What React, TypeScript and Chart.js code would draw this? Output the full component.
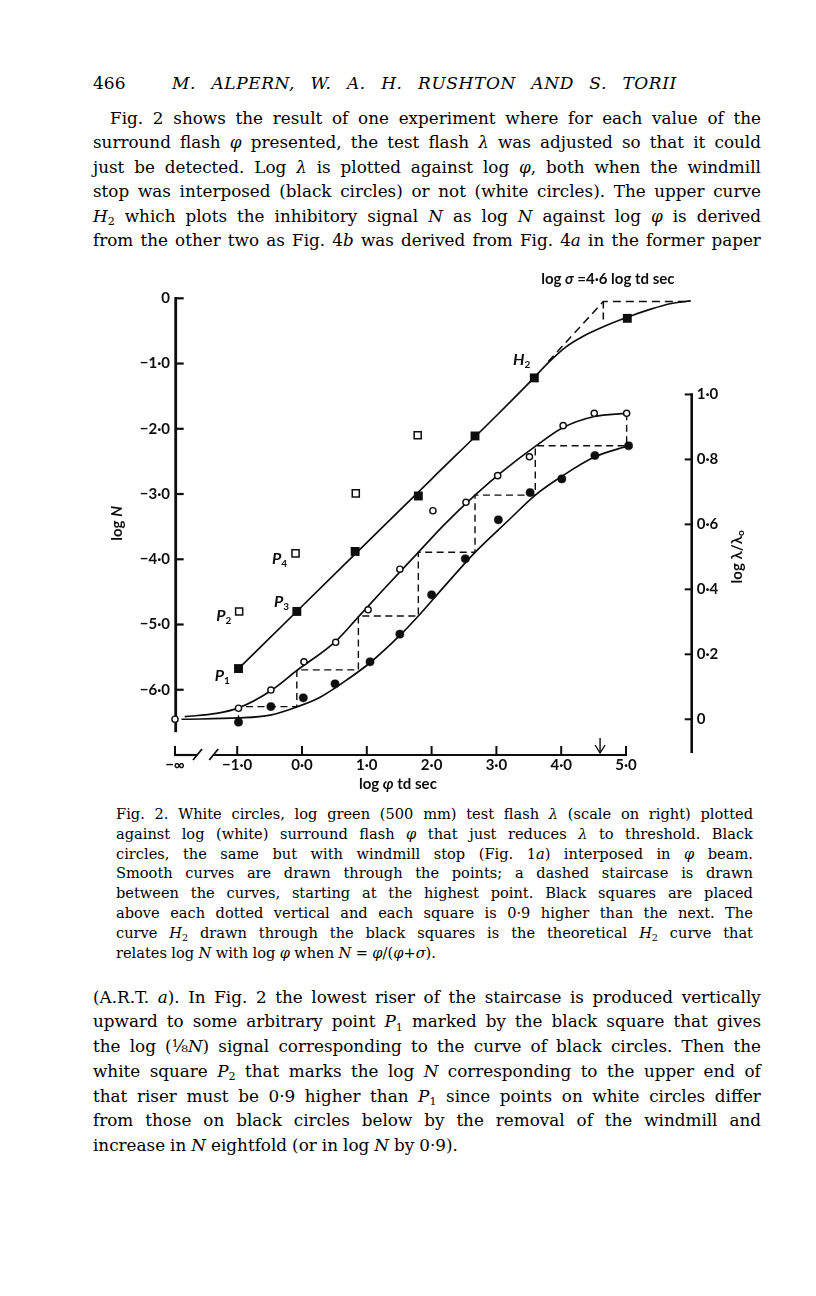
import React, { useEffect, useRef } from "react";
import { Chart, registerables } from "chart.js";

Chart.register(...registerables);

// ---------------- chart data ----------------
// position used for the "−∞" point on the broken log φ axis
const X_INF = -1.96;
const X_TICKS = [X_INF, -1, 0, 1, 2, 3, 4, 5];
const X_TICK_LABELS = ["−∞", "−1·0", "0·0", "1·0", "2·0", "3·0", "4·0", "5·0"];
const LOG_N_TICKS = [0, -1, -2, -3, -4, -5, -6];
const LOG_N_TICK_LABELS = ["0", "−1·0", "−2·0", "−3·0", "−4·0", "−5·0", "−6·0"];
const LOG_L_TICKS = [0, 0.2, 0.4, 0.6, 0.8, 1.0];
const LOG_L_TICK_LABELS = ["0", "0·2", "0·4", "0·6", "0·8", "1·0"];
const LOG_SIGMA = 4.6;

// white circles: log φ, log λ/λ0 (right scale)
const WHITE_CIRCLES: [number, number][] = [
  [X_INF, 0.0], [-0.98, 0.034], [-0.48, 0.09], [0.03, 0.177], [0.52, 0.237],
  [1.02, 0.337], [1.51, 0.462], [2.02, 0.642], [2.53, 0.668], [3.02, 0.75],
  [3.51, 0.808], [4.03, 0.904], [4.51, 0.942], [5.01, 0.942],
];
// black circles: log φ, log λ/λ0 (right scale)
const BLACK_CIRCLES: [number, number][] = [
  [-0.98, -0.009], [-0.48, 0.039], [0.02, 0.066], [0.51, 0.109], [1.05, 0.177],
  [1.51, 0.262], [2.0, 0.383], [2.52, 0.494], [3.03, 0.614], [3.52, 0.698],
  [4.01, 0.74], [4.52, 0.812], [5.04, 0.842],
];
// black squares: log φ, log N (left scale)
const BLACK_SQUARES: [number, number][] = [
  [-0.98, -5.675], [-0.08, -4.8], [0.82, -3.88], [1.795, -3.03],
  [2.67, -2.11], [3.585, -1.22], [5.02, -0.307],
];
// white squares: log φ, log N (left scale)
const WHITE_SQUARES: [number, number][] = [
  [-0.97, -4.8], [-0.1, -3.91], [0.83, -2.99], [1.785, -2.1],
];
// smooth curve through white circles (right scale)
const WHITE_CURVE: [number, number][] = [
  [-1.81, 0.008], [-1.32, 0.018], [-0.98, 0.035], [-0.48, 0.088], [-0.08, 0.15],
  [0.52, 0.24], [0.87, 0.315], [1.25, 0.398], [1.795, 0.514], [2.2, 0.6],
  [2.67, 0.69], [3.1, 0.764], [3.6, 0.84], [4.03, 0.898], [4.51, 0.932], [5.01, 0.942],
];
// smooth curve through black circles (right scale)
const BLACK_CURVE: [number, number][] = [
  [-1.86, 0.0], [-0.98, 0.004], [-0.49, 0.013], [-0.08, 0.038], [0.28, 0.068],
  [0.74, 0.128], [1.05, 0.174], [1.51, 0.258], [1.795, 0.318], [2.2, 0.41],
  [2.67, 0.514], [3.2, 0.615], [3.6, 0.69], [4.01, 0.748], [4.52, 0.808], [5.04, 0.842],
];
// theoretical H2 curve (left scale)
const H2_CURVE: [number, number][] = [
  [-0.98, -5.675], [0, -4.72], [1, -3.745], [2, -2.77], [3, -1.8], [3.5, -1.3],
  [3.83, -0.96], [4.08, -0.74], [4.34, -0.58], [4.65, -0.435], [5.02, -0.29],
  [5.37, -0.17], [5.68, -0.083], [6.0, -0.04],
];
// dashed asymptotes of H2 (left scale)
const H2_ASYMPTOTE: [number, number][] = [[3.8, -0.97], [4.65, -0.05], [6.0, -0.05]];
const SIGMA_DROP: [number, number][] = [[4.65, -0.05], [4.65, -0.34]];
// dashed staircase between the two circle curves (right scale)
const STAIRCASE: [number, number][] = [
  [5.01, 0.942], [5.01, 0.842], [3.6, 0.842], [3.6, 0.69], [2.67, 0.69], [2.67, 0.514],
  [1.795, 0.514], [1.795, 0.318], [0.87, 0.318], [0.87, 0.152], [-0.08, 0.152],
  [-0.08, 0.039], [-0.98, 0.039], [-0.98, 0.0],
];

// ---------------- axis geometry ----------------
const X_MIN = X_INF;
const X_MAX = 6.014;
const Y_MIN = -7.0;
const Y_MAX = 0;
const Y2_MIN = -0.11;
const Y2_MAX = 1.296;
const LEFT_AXIS_END = -6.65;
const RIGHT_AXIS_END = -0.104;
const BREAK_A = -1.62;
const BREAK_B = -1.37;

const INK = "#0d0d0d";
const SANS = 'Lato, "DejaVu Sans", sans-serif';
const SERIF = '"DejaVu Serif", "Liberation Serif", serif';

type Part = { t: string; f: string; dy?: number };
function rich(ctx: CanvasRenderingContext2D, parts: Part[], x: number, y: number, align: "left" | "center" = "left") {
  const widths = parts.map((p) => {
    ctx.font = p.f;
    return ctx.measureText(p.t).width;
  });
  const total = widths.reduce((a, b) => a + b, 0);
  let cx = align === "center" ? x - total / 2 : x;
  parts.forEach((p, i) => {
    ctx.font = p.f;
    ctx.fillText(p.t, cx, y + (p.dy || 0));
    cx += widths[i];
  });
}

const B = (s: number) => `bold ${s}px ${SANS}`;
const BI = (s: number) => `italic bold ${s}px ${SANS}`;

const figurePlugin = {
  id: "figureFrame",
  beforeDatasetsDraw(chart: any) {
    const { ctx, chartArea: ca, scales } = chart;
    const xs = scales.x, ys = scales.y, y2 = scales.y2;
    const seg = (a: number, b: number, c: number, d: number) => {
      ctx.beginPath();
      ctx.moveTo(a, b);
      ctx.lineTo(c, d);
      ctx.stroke();
    };
    ctx.save();
    ctx.strokeStyle = INK;
    ctx.lineCap = "butt";
    // left (log N) axis
    const lx = ca.left + 0.7;
    ctx.lineWidth = 2.8;
    seg(lx, ys.getPixelForValue(0) - 1.2, lx, ys.getPixelForValue(LEFT_AXIS_END));
    ctx.lineWidth = 2.2;
    LOG_N_TICKS.forEach((v) => {
      const y = ys.getPixelForValue(v);
      seg(lx, y, lx + 8, y);
    });
    // right (log λ/λ0) axis
    const rx = ca.right;
    ctx.lineWidth = 2.6;
    seg(rx, y2.getPixelForValue(1.0) - 1.1, rx, y2.getPixelForValue(RIGHT_AXIS_END));
    ctx.lineWidth = 2;
    LOG_L_TICKS.forEach((v) => {
      const y = y2.getPixelForValue(v);
      seg(rx - 7, y, rx, y);
    });
    // broken x axis
    const by = ca.bottom;
    ctx.lineWidth = 2.2;
    seg(xs.getPixelForValue(X_INF) - 1, by, xs.getPixelForValue(BREAK_A), by);
    seg(xs.getPixelForValue(BREAK_B), by, xs.getPixelForValue(5) + 1, by);
    ctx.lineWidth = 1.8;
    [BREAK_A, BREAK_B].forEach((v) => {
      const x = xs.getPixelForValue(v);
      seg(x - 4, by + 5, x + 5, by - 6);
    });
    ctx.lineWidth = 2;
    X_TICKS.forEach((v) => {
      const x = xs.getPixelForValue(v);
      seg(x, by, x, by - 9);
    });
    // arrow marking log σ
    const ax = xs.getPixelForValue(LOG_SIGMA);
    ctx.lineWidth = 1.4;
    seg(ax, by - 17, ax, by - 2);
    ctx.beginPath();
    ctx.moveTo(ax - 5, by - 10);
    ctx.lineTo(ax, by - 2);
    ctx.lineTo(ax + 5, by - 10);
    ctx.stroke();
    ctx.restore();
  },
  afterDatasetsDraw(chart: any) {
    const { ctx, chartArea: ca, scales } = chart;
    const xs = scales.x, ys = scales.y, y2 = scales.y2;
    ctx.save();
    ctx.fillStyle = INK;
    ctx.textBaseline = "middle";
    ctx.textAlign = "left";
    const pl = (name: string, sub: string, vx: number, vy: number) =>
      rich(ctx, [{ t: name, f: BI(16) }, { t: sub, f: B(10), dy: 5 }], xs.getPixelForValue(vx) - 6, ys.getPixelForValue(vy));
    pl("P", "1", -1.255, -5.78);
    pl("P", "2", -1.23, -4.86);
    pl("P", "3", -0.34, -4.65);
    pl("P", "4", -0.37, -4.0);
    pl("H", "2", 3.35, -0.946);
    rich(ctx, [{ t: "log ", f: B(15) }, { t: "σ", f: BI(15) }, { t: " =4·6 log td sec", f: B(15) }],
      xs.getPixelForValue(4.72), ys.getPixelForValue(0.3), "center");
    rich(ctx, [{ t: "log ", f: B(15) }, { t: "φ", f: BI(15) }, { t: " td sec", f: B(15) }],
      xs.getPixelForValue(1.48), ca.bottom + 29, "center");
    ctx.save();
    ctx.translate(ca.left - 58, ys.getPixelForValue(-3.45));
    ctx.rotate(-Math.PI / 2);
    rich(ctx, [{ t: "log ", f: B(15) }, { t: "N", f: BI(15) }], 0, 0, "center");
    ctx.restore();
    ctx.save();
    ctx.translate(ca.right + 45, y2.getPixelForValue(0.5));
    ctx.rotate(-Math.PI / 2);
    rich(ctx, [{ t: "log λ/λ", f: B(15) }, { t: "o", f: B(10), dy: 4 }], 0, 0, "center");
    ctx.restore();
    ctx.restore();
  },
};

const toXY = (arr: [number, number][]) => arr.map(([x, y]) => ({ x, y }));

function curve(data: [number, number][], axis: string, extra: any = {}) {
  return {
    data: toXY(data), yAxisID: axis, showLine: true, pointRadius: 0, pointHoverRadius: 0,
    borderColor: INK, backgroundColor: INK, borderWidth: 1.7, fill: false, clip: false, order: 5, ...extra,
  };
}
function marks(data: [number, number][], axis: string, extra: any = {}) {
  return { data: toXY(data), yAxisID: axis, showLine: false, clip: false, order: 0, pointHoverRadius: 0, ...extra };
}

const tickFont = { family: SANS, size: 15, weight: "bold" as const };

function Figure() {
  const ref = useRef<HTMLCanvasElement>(null);
  useEffect(() => {
    const chart = new Chart(ref.current as HTMLCanvasElement, {
      type: "scatter",
      data: {
        datasets: [
          marks(WHITE_CIRCLES, "y2", { pointStyle: "circle", pointRadius: 3.1, pointBackgroundColor: "#fff", pointBorderColor: INK, pointBorderWidth: 1.4 }),
          marks(BLACK_CIRCLES, "y2", { pointStyle: "circle", pointRadius: 4.1, pointBackgroundColor: INK, pointBorderColor: INK, pointBorderWidth: 0.5 }),
          marks(BLACK_SQUARES, "y", { pointStyle: "rect", pointRadius: 6.3, pointBackgroundColor: INK, pointBorderColor: INK, pointBorderWidth: 0 }),
          marks(WHITE_SQUARES, "y", { pointStyle: "rect", pointRadius: 5, pointBackgroundColor: "#fff", pointBorderColor: INK, pointBorderWidth: 1.5 }),
          curve(H2_CURVE, "y", { cubicInterpolationMode: "monotone" }),
          curve(H2_ASYMPTOTE, "y", { borderDash: [8, 5], borderWidth: 1.5, tension: 0 }),
          curve(SIGMA_DROP, "y", { borderDash: [7, 4], borderWidth: 1.5, tension: 0 }),
          curve(WHITE_CURVE, "y2", { cubicInterpolationMode: "monotone" }),
          curve(BLACK_CURVE, "y2", { cubicInterpolationMode: "monotone" }),
          curve(STAIRCASE, "y2", { borderDash: [7, 4.5], borderWidth: 1.4, tension: 0 }),
        ] as any,
      },
      options: {
        responsive: false,
        animation: false,
        devicePixelRatio: 1,
        events: [],
        layout: { padding: { top: 28.3, left: 0, right: 0, bottom: 0 } },
        plugins: { legend: { display: false }, tooltip: { enabled: false }, title: { display: false } },
        scales: {
          x: {
            type: "linear", position: "bottom", min: X_MIN, max: X_MAX,
            grid: { display: false, drawTicks: false }, border: { display: false },
            afterBuildTicks: (s: any) => { s.ticks = X_TICKS.map((v) => ({ value: v })); },
            afterFit: (s: any) => { s.height = 45; },
            ticks: {
              autoSkip: false, maxRotation: 0, minRotation: 0, padding: 1, color: INK, font: tickFont,
              callback: (v: any) => X_TICK_LABELS[X_TICKS.indexOf(v)] ?? "",
            },
          },
          y: {
            type: "linear", position: "left", min: Y_MIN, max: Y_MAX,
            grid: { display: false, drawTicks: false }, border: { display: false },
            afterBuildTicks: (s: any) => { s.ticks = LOG_N_TICKS.map((v) => ({ value: v })); },
            afterFit: (s: any) => { s.width = 75; },
            ticks: {
              autoSkip: false, padding: 5, color: INK, font: tickFont,
              callback: (v: any) => LOG_N_TICK_LABELS[LOG_N_TICKS.indexOf(v)] ?? "",
            },
          },
          y2: {
            type: "linear", position: "right", min: Y2_MIN, max: Y2_MAX,
            grid: { display: false, drawTicks: false }, border: { display: false },
            afterBuildTicks: (s: any) => { s.ticks = LOG_L_TICKS.map((v) => ({ value: v })); },
            afterFit: (s: any) => { s.width = 108.3; },
            ticks: {
              autoSkip: false, padding: 5, color: INK, font: tickFont,
              callback: (v: any) => LOG_L_TICK_LABELS[LOG_L_TICKS.indexOf(v)] ?? "",
            },
          },
        },
      } as any,
      plugins: [figurePlugin as any],
    });
    return () => chart.destroy();
  }, []);
  return (
    <canvas
      ref={ref}
      width={700}
      height={530}
      style={{ position: "absolute", left: 100, top: 270, width: 700, height: 530 }}
    />
  );
}

// ---------------- page text ----------------
const TOP_LINES = [
  "Fig. 2 shows the result of one experiment where for each value of the",
  "surround flash *φ* presented, the test flash *λ* was adjusted so that it could",
  "just be detected. Log *λ* is plotted against log *φ*, both when the windmill",
  "stop was interposed (black circles) or not (white circles). The upper curve",
  "*H*~2~ which plots the inhibitory signal *N* as log *N* against log *φ* is derived",
  "from the other two as Fig. 4*b* was derived from Fig. 4*a* in the former paper",
];
const CAPTION_LINES = [
  "Fig. 2. White circles, log green (500 mm) test flash *λ* (scale on right) plotted",
  "against log (white) surround flash *φ* that just reduces *λ* to threshold. Black",
  "circles, the same but with windmill stop (Fig. 1*a*) interposed in *φ* beam.",
  "Smooth curves are drawn through the points; a dashed staircase is drawn",
  "between the curves, starting at the highest point. Black squares are placed",
  "above each dotted vertical and each square is 0·9 higher than the next. The",
  "curve *H*~2~ drawn through the black squares is the theoretical *H*~2~ curve that",
  "relates log *N* with log *φ* when *N* = *φ*/(*φ*+*σ*).",
];
const BOTTOM_LINES = [
  "(A.R.T. *a*). In Fig. 2 the lowest riser of the staircase is produced vertically",
  "upward to some arbitrary point *P*~1~ marked by the black square that gives",
  "the log (⅛*N*) signal corresponding to the curve of black circles. Then the",
  "white square *P*~2~ that marks the log *N* corresponding to the upper end of",
  "that riser must be 0·9 higher than *P*~1~ since points on white circles differ",
  "from those on black circles below by the removal of the windmill and",
  "increase in *N* eightfold (or in log *N* by 0·9).",
];

function Word({ w }: { w: string }) {
  const parts = w.split(/(\*[^*]+\*|~[^~]+~)/).filter(Boolean);
  return (
    <span style={{ whiteSpace: "nowrap" }}>
      {parts.map((p, i) =>
        p.startsWith("*") && p.length > 1 ? (
          <i key={i}>{p.slice(1, -1)}</i>
        ) : p.startsWith("~") && p.length > 1 ? (
          <span key={i} style={{ fontSize: "0.66em", position: "relative", top: "0.32em" }}>
            {p.slice(1, -1)}
          </span>
        ) : (
          <React.Fragment key={i}>{p}</React.Fragment>
        )
      )}
    </span>
  );
}

function Line({ text, left, right, cy, size, lh, justify, spacing }: {
  text: string; left: number; right: number; cy: number; size: number; lh: number; justify: boolean; spacing: number;
}) {
  const words = text.split(" ");
  return (
    <div
      style={{
        position: "absolute", left, top: cy - lh / 2, width: right - left, height: lh,
        lineHeight: `${lh}px`, fontSize: size, letterSpacing: spacing,
        display: "flex", justifyContent: justify ? "space-between" : "flex-start",
        columnGap: justify ? 0 : "0.3em", whiteSpace: "nowrap",
      }}
    >
      {words.map((w, i) => (
        <Word key={i} w={w} />
      ))}
    </div>
  );
}

export default function App() {
  const BODY_LEFT = 93;
  const BODY_RIGHT = 761;
  const BODY_SIZE = 16.8;
  return (
    <div
      style={{
        position: "absolute", left: 0, top: 0, width: 816, height: 1296, background: "#fff",
        fontFamily: SERIF, color: "#000", overflow: "hidden",
      }}
    >
      <div style={{ position: "absolute", left: 93, top: 83 - 12, height: 24, lineHeight: "24px", fontSize: 17 }}>466</div>
      <div
        style={{
          position: "absolute", left: 172, top: 83 - 12, width: 505, height: 24, lineHeight: "24px", fontSize: 17,
          fontStyle: "italic", letterSpacing: 0.6, display: "flex", justifyContent: "space-between", whiteSpace: "nowrap",
        }}
      >
        {"M. ALPERN, W. A. H. RUSHTON AND S. TORII".split(" ").map((w, i) => (
          <span key={i}>{w}</span>
        ))}
      </div>
      {TOP_LINES.map((t, i) => (
        <Line key={"t" + i} text={t} left={i === 0 ? 110 : BODY_LEFT} right={BODY_RIGHT} cy={117.7 + i * 24.46}
          size={BODY_SIZE} lh={24} justify={true} spacing={0} />
      ))}
      <Figure />
      {CAPTION_LINES.map((t, i) => (
        <Line key={"c" + i} text={t} left={116} right={753} cy={813.3 + i * 19.85}
          size={14.6} lh={19} justify={i < CAPTION_LINES.length - 1} spacing={0} />
      ))}
      {BOTTOM_LINES.map((t, i) => (
        <Line key={"b" + i} text={t} left={BODY_LEFT} right={BODY_RIGHT} cy={996.7 + i * 24.7}
          size={BODY_SIZE} lh={24} justify={i < BOTTOM_LINES.length - 1} spacing={0} />
      ))}
    </div>
  );
}
